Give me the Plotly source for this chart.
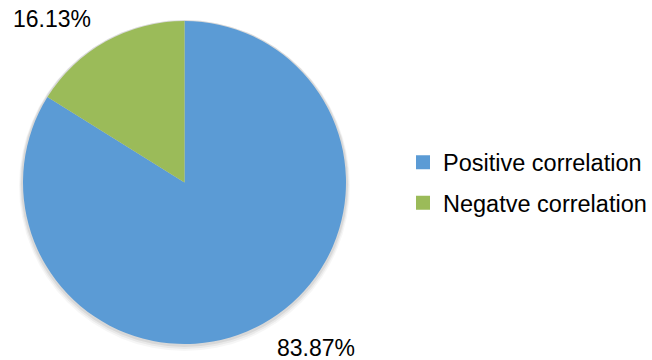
import plotly.graph_objects as go

# Share of correlations by sign
categories = ["Positive correlation", "Negatve correlation"]
shares = [83.87, 16.13]
colors = ["#5b9bd5", "#9bbb59"]

W, H = 652, 360

# pie placement in pixels (left, right, top, bottom)
px_l, px_r, px_t, px_b = 23, 346, 21, 344


def dom(l, r, t, b):
    return dict(x=[l / W, r / W], y=[1 - b / H, 1 - t / H])


fig = go.Figure()

# soft drop shadow beneath the pie, built from a few faint layers
for grow, dy, alpha in [(4, 3, 0.035), (3, 2, 0.05), (2, 1, 0.07)]:
    fig.add_trace(go.Pie(
        values=[1], labels=["shadow"], sort=False, showlegend=False,
        textinfo="none", hoverinfo="skip",
        marker=dict(colors=[f"rgba(0,0,0,{alpha})"], line=dict(width=0)),
        domain=dom(px_l - grow, px_r + grow, px_t - grow + dy, px_b + grow + dy),
    ))

fig.add_trace(go.Pie(
    labels=categories, values=shares, sort=False, direction="clockwise",
    rotation=0, textinfo="none", showlegend=False,
    marker=dict(colors=colors, line=dict(width=0)),
    domain=dom(px_l, px_r, px_t, px_b),
))

# legend entries in separate groups so their spacing can be set
for i, (name, col) in enumerate(zip(categories, colors)):
    fig.add_trace(go.Scatter(
        x=[None], y=[None], mode="markers", name=name,
        legendgroup=f"g{i}",
        marker=dict(symbol="square", size=14, color=col),
    ))

# value labels
label_pos = {"Positive correlation": (316 / W, 1 - 348 / H),
             "Negatve correlation": (52 / W, 1 - 19 / H)}
for name, v in zip(categories, shares):
    x, y = label_pos[name]
    fig.add_annotation(x=x, y=y, xref="paper", yref="paper",
                       text=f"{v:.2f}%", showarrow=False,
                       xanchor="center", yanchor="middle",
                       font=dict(family="Liberation Sans, Arial", size=23, color="#000"))

fig.update_layout(
    width=W, height=H,
    margin=dict(l=0, r=0, t=0, b=0, autoexpand=False),
    paper_bgcolor="white", plot_bgcolor="white",
    xaxis=dict(visible=False), yaxis=dict(visible=False),
    legend=dict(x=403 / W, y=1 - 183 / H, xanchor="left", yanchor="middle",
                font=dict(family="Liberation Sans, Arial", size=23.5, color="#000"),
                traceorder="grouped", tracegroupgap=7,
                itemwidth=30, bgcolor="rgba(0,0,0,0)"),
    showlegend=True,
)

fig.write_html("out.html")
